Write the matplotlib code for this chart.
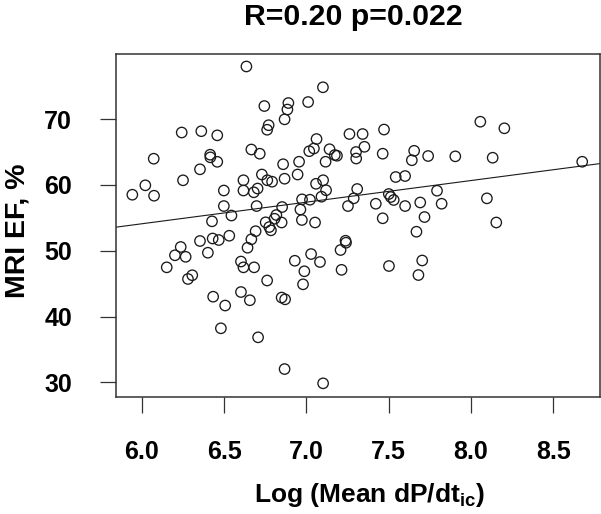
import numpy as np
import matplotlib
matplotlib.use('Agg')
import matplotlib.pyplot as plt

plt.rcParams['font.family'] = ['Liberation Sans', 'DejaVu Sans']
plt.rcParams['font.weight'] = 'bold'
plt.rcParams['mathtext.fontset'] = 'custom'
plt.rcParams['mathtext.rm'] = 'Liberation Sans:bold'
plt.rcParams['mathtext.it'] = 'Liberation Sans:bold'
plt.rcParams['mathtext.bf'] = 'Liberation Sans:bold'

# Data
log_dpdt = [6.636, 6.745, 6.891, 6.885, 6.868, 7.011, 7.101, 6.243, 6.362, 6.459,
            6.771, 6.762, 6.073, 6.666, 6.717, 6.416, 6.417, 6.459, 6.354, 6.251,
            6.022, 5.943, 6.075, 6.618, 6.730, 6.763, 6.792, 6.868, 6.947, 6.859,
            6.956, 7.018, 7.046, 7.062, 7.141, 7.173, 7.186, 7.117, 7.262, 7.342,
            7.472, 7.302, 7.303, 7.353, 7.464, 7.655, 7.641, 7.740, 7.905, 8.057,
            8.203, 8.132, 8.676, 6.499, 6.618, 6.681, 6.704, 7.059, 7.102, 7.120,
            7.309, 7.543, 7.600, 7.501, 7.513, 7.531, 6.499, 6.545, 6.427, 6.698,
            6.853, 6.974, 7.022, 7.092, 6.964, 6.973, 6.818, 6.807, 6.753, 6.775,
            6.785, 6.850, 6.692, 6.666, 6.643, 6.532, 6.431, 6.468, 6.354, 6.402,
            6.237, 6.267, 6.202, 6.152, 6.281, 6.307, 6.603, 6.618, 6.683, 6.762,
            6.930, 6.988, 6.980, 7.029, 7.083, 7.053, 7.208, 7.238, 7.241, 7.214,
            7.253, 7.288, 7.422, 7.464, 7.502, 7.600, 7.669, 7.692, 7.718, 7.704,
            7.681, 7.794, 7.822, 8.097, 8.154, 6.434, 6.507, 6.481, 6.603, 6.657,
            6.707, 6.850, 6.871, 6.868, 7.102]
mri_ef = [77.98, 71.97, 72.43, 71.44, 69.95, 72.58, 74.82, 67.95, 68.15, 67.52,
          69.06, 68.37, 63.97, 65.37, 64.73, 64.58, 64.18, 63.50, 62.36, 60.69,
          59.93, 58.50, 58.35, 60.70, 61.57, 60.70, 60.48, 60.93, 61.57, 63.13,
          63.51, 65.11, 65.52, 66.96, 65.41, 64.53, 64.42, 63.51, 67.72, 67.72,
          68.40, 64.99, 64.00, 65.78, 64.73, 65.17, 63.74, 64.38, 64.33, 69.59,
          68.59, 64.12, 63.51, 59.14, 59.14, 58.87, 59.44, 60.16, 60.70, 59.18,
          59.37, 61.19, 61.34, 58.61, 58.15, 57.70, 56.78, 55.34, 54.46, 56.78,
          56.63, 57.80, 57.74, 58.20, 56.25, 54.66, 55.42, 54.85, 54.31, 53.59,
          53.09, 54.28, 52.96, 51.73, 50.45, 52.27, 51.85, 51.62, 51.47, 49.69,
          50.56, 49.07, 49.30, 47.47, 45.70, 46.27, 48.35, 47.47, 47.47, 45.47,
          48.47, 46.87, 44.89, 49.49, 48.28, 54.28, 50.10, 51.51, 51.21, 47.09,
          56.78, 57.95, 57.13, 54.92, 47.67, 56.78, 52.88, 57.32, 55.11, 48.51,
          46.30, 59.11, 57.13, 57.95, 54.28, 43.01, 41.67, 38.21, 43.72, 42.47,
          36.84, 42.88, 42.61, 32.02, 29.85]
x_ticks = [6.0, 6.5, 7.0, 7.5, 8.0, 8.5]
y_ticks = [30, 40, 50, 60, 70]
title_text = "R=0.20 p=0.022"
x_label = r"Log (Mean dP/dt$_{ic}$)"
y_label = "MRI EF, %"

W, H = 601, 514
fig = plt.figure(figsize=(W / 100, H / 100), dpi=100)
ax = fig.add_axes([115.7 / W, 1 - 396.7 / H, (599.5 - 115.7) / W, (396.7 - 54.3) / H])

ax.scatter(log_dpdt, mri_ef, s=56, facecolors='none', edgecolors='#1a1a1a',
           linewidths=0.95, zorder=3)

slope, intercept = np.polyfit(log_dpdt, mri_ef, 1)
ax.axline((6.0, intercept + slope * 6.0), slope=slope, color='#1a1a1a', lw=0.8, zorder=2)

ax.set_xlim(5.842, 8.781)
ax.set_ylim(27.82, 79.83)
ax.set_xticks(x_ticks)
ax.set_xticklabels([f"{v:.1f}" for v in x_ticks])
ax.set_yticks(y_ticks)
ax.set_yticklabels([str(v) for v in y_ticks])
ax.tick_params(direction='out', length=11.5, width=0.9, color='#333333',
               labelsize=18, labelcolor='black')
ax.tick_params(axis='x', pad=20)
ax.tick_params(axis='y', pad=20)
for sp in ax.spines.values():
    sp.set_linewidth(1.1)
    sp.set_color('#333333')

fig.text(353.5 / W, 1 - 25 / H, title_text, ha='center', va='baseline',
         fontsize=21.8, fontweight='bold')
fig.text(369 / W, 1 - 495 / H, x_label, ha='center', va='center',
         fontsize=19, fontweight='bold')
fig.text(18 / W, 1 - 231 / H, y_label, ha='center', va='center', rotation=90,
         fontsize=20.5, fontweight='bold')

fig.savefig('out.png', dpi=100)
